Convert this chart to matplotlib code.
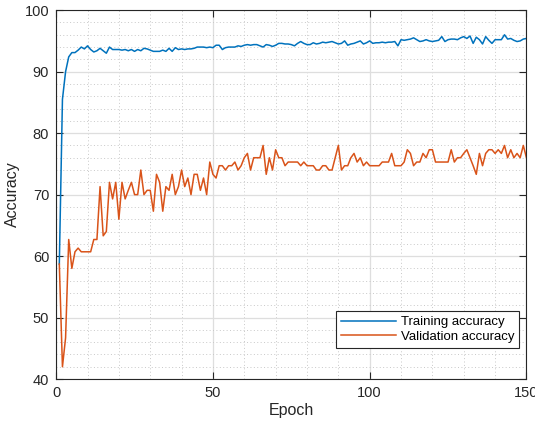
import numpy as np
import matplotlib
matplotlib.use('Agg')
from matplotlib import pyplot as plt
from matplotlib.ticker import MultipleLocator

plt.rcParams['font.family'] = ['Liberation Sans', 'DejaVu Sans']

# accuracy per epoch (1..150)
train_acc = [
    58.7, 85.5, 90.0, 92.4, 93.1, 93.1, 93.5, 94.0, 93.7, 94.2,
    93.6, 93.2, 93.4, 93.8, 93.4, 93.0, 94.0, 93.6, 93.6, 93.6,
    93.5, 93.6, 93.4, 93.6, 93.3, 93.6, 93.4, 93.8, 93.7, 93.5,
    93.3, 93.3, 93.3, 93.5, 93.3, 93.8, 93.3, 93.9, 93.6, 93.7,
    93.6, 93.7, 93.7, 93.8, 94.0, 94.0, 94.0, 93.9, 94.0, 93.9,
    94.3, 94.3, 93.6, 93.9, 94.0, 94.0, 94.0, 94.2, 94.1, 94.3,
    94.4, 94.3, 94.4, 94.4, 94.2, 94.0, 94.4, 94.3, 94.1, 94.3,
    94.6, 94.6, 94.5, 94.5, 94.4, 94.2, 94.6, 94.9, 94.6, 94.4,
    94.4, 94.7, 94.5, 94.6, 94.8, 94.7, 94.8, 94.9, 94.7, 94.5,
    94.6, 95.0, 94.3, 94.5, 94.6, 94.8, 95.0, 94.5, 94.7, 95.0,
    94.6, 94.7, 94.7, 94.8, 94.7, 94.8, 94.8, 94.9, 94.2, 95.2,
    95.1, 95.2, 95.3, 95.5, 95.2, 94.9, 95.0, 95.2, 95.0, 94.9,
    95.0, 95.1, 95.7, 94.9, 95.2, 95.3, 95.3, 95.2, 95.5, 95.7,
    95.4, 95.8, 94.6, 95.6, 95.2, 94.5, 95.7, 95.1, 94.6, 95.2,
    95.2, 95.2, 96.0, 95.3, 95.4, 95.1, 94.9, 95.0, 95.3, 95.4,
]

val_acc = [
    58.7, 42.0, 46.7, 62.7, 58.0, 60.7, 61.3, 60.7, 60.7, 60.7,
    60.7, 62.7, 62.7, 71.3, 63.3, 64.0, 72.0, 69.3, 72.0, 66.0,
    72.0, 69.3, 70.7, 72.0, 70.0, 70.0, 74.0, 70.0, 70.7, 70.7,
    67.3, 73.3, 72.0, 67.3, 71.3, 70.7, 73.3, 70.0, 71.3, 74.0,
    71.3, 72.7, 70.0, 73.3, 73.3, 70.7, 72.7, 70.0, 75.3, 73.3,
    72.7, 74.7, 74.7, 74.0, 74.7, 74.7, 75.3, 74.0, 74.7, 76.0,
    76.7, 74.0, 76.0, 76.0, 76.0, 78.0, 73.3, 76.0, 74.0, 77.3,
    76.0, 76.0, 74.7, 75.3, 75.3, 75.3, 75.3, 74.7, 75.3, 74.7,
    74.7, 74.7, 74.0, 74.0, 74.7, 74.7, 74.0, 74.0, 76.0, 78.0,
    74.0, 74.7, 74.7, 76.0, 76.7, 75.3, 76.0, 74.7, 75.3, 74.7,
    74.7, 74.7, 74.7, 75.3, 75.3, 75.3, 76.7, 74.7, 74.7, 74.7,
    75.3, 77.3, 76.7, 74.7, 75.3, 75.3, 76.7, 76.0, 77.3, 77.3,
    75.3, 75.3, 75.3, 75.3, 75.3, 77.3, 75.3, 76.0, 76.0, 76.7,
    77.3, 76.0, 74.7, 73.3, 76.7, 74.7, 76.7, 77.3, 77.3, 76.7,
    77.3, 76.7, 78.0, 76.0, 77.3, 76.0, 76.7, 76.0, 78.0, 76.0,
]

epochs = np.arange(1, len(train_acc) + 1)

fig = plt.figure(figsize=(5.35, 4.24), dpi=100)
ax = fig.add_axes([0.105, 0.106, 0.879, 0.870])

ax.plot(epochs, train_acc, color='#0072BD', lw=1.1, label='Training accuracy')
ax.plot(epochs, val_acc, color='#D95319', lw=1.1, label='Validation accuracy')

ax.set_xlim(0, 150)
ax.set_ylim(40, 100)
ax.xaxis.set_major_locator(MultipleLocator(50))
ax.xaxis.set_minor_locator(MultipleLocator(10))
ax.yaxis.set_major_locator(MultipleLocator(10))
ax.yaxis.set_minor_locator(MultipleLocator(2))

# matlab look: grid + minor grid, ticks inside on all sides
ax.grid(True, which='major', color='#dedede', lw=0.9, ls='-')
ax.grid(True, which='minor', color='#c8c8c8', lw=0.7, ls=(0, (1, 2.5)))
ax.set_axisbelow(True)
ax.tick_params(which='major', direction='in', length=5, width=0.8, color='#262626',
               top=True, right=True, labelsize=10.5, labelcolor='#262626', pad=5)
ax.tick_params(which='minor', length=0, top=True, right=True)
for s in ax.spines.values():
    s.set_color('#262626')
    s.set_linewidth(0.8)

ax.set_xlabel('Epoch', fontsize=11.5, color='#262626', labelpad=2)
ax.set_ylabel('Accuracy', fontsize=11.5, color='#262626', labelpad=3)

leg = ax.legend(loc='lower right', bbox_to_anchor=(0.985, 0.085), fontsize=9.5,
                fancybox=False, framealpha=1, edgecolor='#262626',
                handlelength=4.2, handletextpad=0.4, borderpad=0.35,
                labelspacing=0.2, borderaxespad=0)
leg.get_frame().set_linewidth(0.8)

fig.savefig('out.png', dpi=100)
